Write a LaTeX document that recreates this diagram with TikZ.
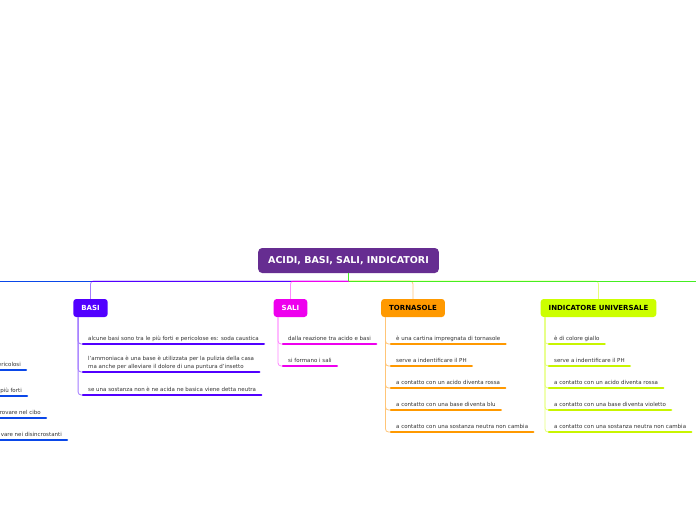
\documentclass[tikz,border=0pt]{standalone}
\usepackage{fontspec}
\setmainfont{DejaVu Sans}
\usetikzlibrary{positioning}
\definecolor{rootc}{HTML}{662D91}
\definecolor{basic}{HTML}{5200FF}
\definecolor{basisoft}{HTML}{A47CFF}
\definecolor{salic}{HTML}{EE00EE}
\definecolor{salisoft}{HTML}{FF88FF}
\definecolor{tornc}{HTML}{FF9900}
\definecolor{tornsoft}{HTML}{FFC577}
\definecolor{indc}{HTML}{CCFF00}
\definecolor{indline}{HTML}{C8F500}
\definecolor{indsoft}{HTML}{E6FF7A}
\definecolor{bluec}{HTML}{0A47E8}
\definecolor{hubc}{HTML}{44EE22}
\definecolor{inkc}{HTML}{333333}
\newcommand{\TitleF}{\fontsize{9.5}{11}\selectfont\bfseries}
\newcommand{\BranchF}{\fontsize{7}{8}\selectfont\bfseries}
\newcommand{\ItemF}{\fontsize{5.5}{8}\selectfont}
\tikzset{
  rootbox/.style={fill=rootc, text=white, rounded corners=4pt, inner xsep=10pt,
                  minimum height=25pt, font=\TitleF},
  branchbox/.style={rounded corners=3pt, inner xsep=8pt, minimum height=18pt,
                    font=\BranchF},
  itembox/.style={anchor=south west, inner xsep=5pt, inner ysep=2.5pt,
                  text depth=1.2pt, align=left, font=\ItemF, text=inkc},
  ul/.style={line width=2.5pt, line cap=round},
  conn/.style={line width=0.8pt, rounded corners=3pt},
}

\begin{document}
\begin{tikzpicture}[x=1pt, y=-1pt]
  \useasboundingbox[fill=white] (0,0) rectangle (696,520);

  % centre and main branches
  \node[rootbox] (root) at (348.5,260.5) {ACIDI, BASI, SALI, INDICATORI};
  \coordinate (hub) at (348.5,281);
  \coordinate (offleft) at (-5,281);
  \coordinate (offright) at (701,281);

  \node[branchbox, fill=basic, text=white] (basi) at (90.5,308) {BASI};
  \node[branchbox, fill=salic, text=white] (sali) at (290.5,308) {SALI};
  \node[branchbox, fill=tornc, text=black] (torn) at (413,308) {TORNASOLE};
  \node[branchbox, fill=indc, text=black] (ind) at (598.5,308) {INDICATORE UNIVERSALE};

  \draw[conn, basisoft] (hub) -| (basi.north);
  \draw[conn, salisoft] (hub) -| (sali.north);
  \draw[conn, tornsoft] (hub) -| (torn.north);
  \draw[conn, indsoft] (hub) -| (ind.north);

  \draw[line width=0.8pt, bluec] (hub) -- (offleft);
  \draw[line width=0.8pt, basic] (hub) -- (basi.north |- hub);
  \draw[line width=0.8pt, salic] (hub) -- (sali.north |- hub);
  \draw[line width=0.8pt, hubc] (hub) -- (offright);
  \draw[line width=0.8pt, hubc] (root.south) -- (hub);

  % basi
  \node[itembox] (b1) at (83,344) {alcune basi sono tra le più forti e pericolose es: soda caustica};
  \node[itembox] (b2) at (83,372) {l'ammoniaca è una base è utilizzata per la pulizia della casa\\
    ma anche per alleviare il dolore di una puntura d'insetto};
  \node[itembox] (b3) at (83,395) {se una sostanza non è ne acida ne basica viene detta neutra};
  \foreach \n in {b1,b2,b3} {
    \draw[conn, basisoft] ([xshift=5pt]basi.south west) |- (\n.south west);
    \draw[ul, basic] (\n.south west) -- (\n.south east);
  }

  % sali
  \node[itembox] (s1) at (283,344) {dalla reazione tra acido e basi};
  \node[itembox] (s2) at (283,366) {si formano i sali};
  \foreach \n in {s1,s2} {
    \draw[conn, salisoft] ([xshift=4.5pt]sali.south west) |- (\n.south west);
    \draw[ul, salic] (\n.south west) -- (\n.south east);
  }

  % tornasole
  \node[itembox] (t1) at (391,344) {è una cartina impregnata di tornasole};
  \node[itembox] (t2) at (391,366) {serve a indentificare il PH};
  \node[itembox] (t3) at (391,388) {a contatto con un acido diventa rossa};
  \node[itembox] (t4) at (391,410) {a contatto con una base diventa blu};
  \node[itembox] (t5) at (391,432) {a contatto con una sostanza neutra non cambia};
  \foreach \n in {t1,t2,t3,t4,t5} {
    \draw[conn, tornsoft] ([xshift=4.5pt]torn.south west) |- (\n.south west);
    \draw[ul, tornc] (\n.south west) -- (\n.south east);
  }

  % indicatore universale
  \node[itembox] (u1) at (549,344) {è di colore giallo};
  \node[itembox] (u2) at (549,366) {serve a indentificare il PH};
  \node[itembox] (u3) at (549,388) {a contatto con un acido diventa rossa};
  \node[itembox] (u4) at (549,410) {a contatto con una base diventa violetto};
  \node[itembox] (u5) at (549,432) {a contatto con una sostanza neutra non cambia};
  \foreach \n in {u1,u2,u3,u4,u5} {
    \draw[conn, indsoft] ([xshift=4.5pt]ind.south west) |- (\n.south west);
    \draw[ul, indline] (\n.south west) -- (\n.south east);
  }

  % branch cut off at the left edge
  \node[itembox, anchor=south east] (l1) at (26,370) {ericolosi};
  \node[itembox, anchor=south east] (l2) at (27,396) {più forti};
  \node[itembox, anchor=south east] (l3) at (46,418) {rovare nel cibo};
  \node[itembox, anchor=south east] (l4) at (67,440) {vare nei disincrostanti};
  \foreach \n in {l1,l2,l3,l4}
    \draw[ul, bluec] (\n.south west) -- (\n.south east);
\end{tikzpicture}
\end{document}
